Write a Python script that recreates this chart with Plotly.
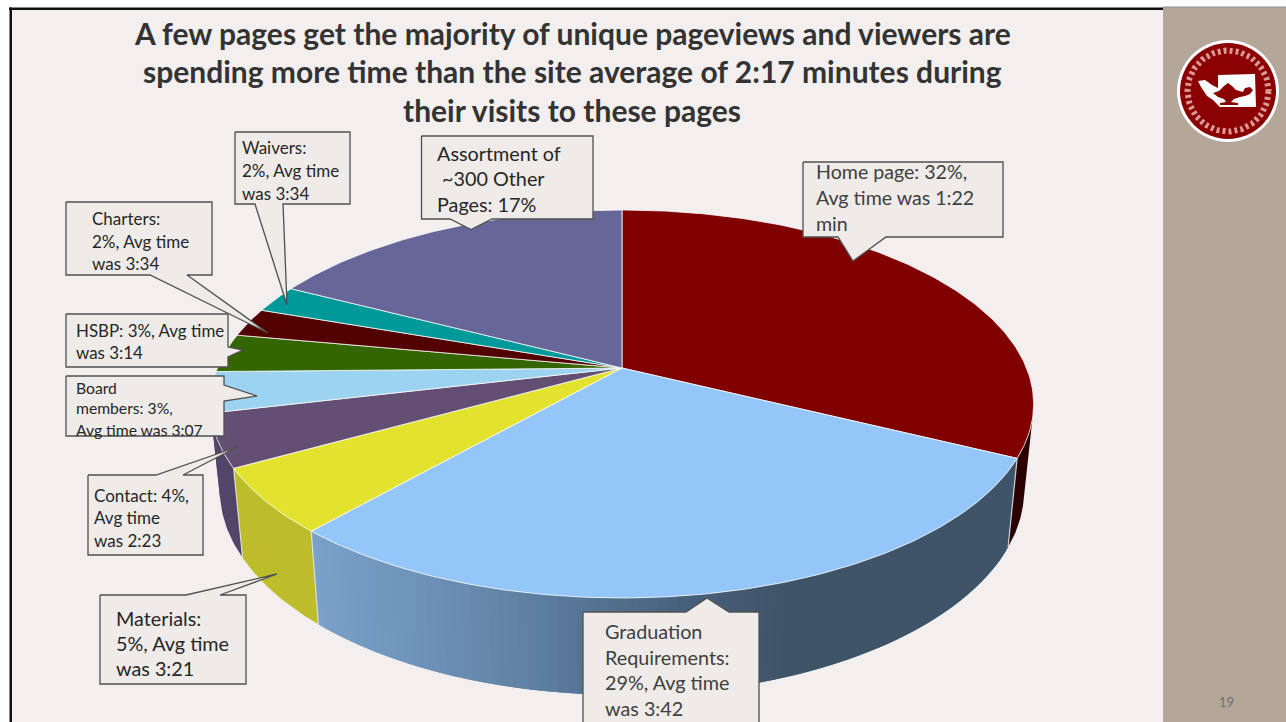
import math
import plotly.graph_objects as go

# Share of unique pageviews per page, clockwise from twelve o'clock
pages = ["Home page", "Graduation Requirements", "Materials", "Contact", "Board members",
         "HSBP", "Charters", "Waivers", "Assortment of ~300 Other Pages"]
shares = [32.3, 29.2, 5.4, 4.4, 3.4, 3.2, 2.4, 2.3, 17.4]
avg_times = ["1:22", "3:42", "3:21", "2:23", "3:07", "3:14", "3:34", "3:34", None]

top_colors = ["#800000", "#94c6fa", "#e3e22f", "#624f73", "#9cd3f1",
              "#336600", "#520000", "#009999", "#666699"]
wall_colors = ["#2b0000", None, "#bdbd2b", "#52456a", "#52456a",
               "#264d00", "#3d0000", "#007373", "#4d4d73"]

TITLE = ["A few pages get the majority of unique pageviews and viewers are",
         "spending more time than the site average of 2:17 minutes during",
         "their visits to these pages"]

W, H = 1286, 722
FONT = "Lato"
INK = "#404040"
INK_DARK = "#262626"
SLIDE = "#f2efee"
BAND = "#b5a69a"
BOX = "#eeebe8"
EDGE = "#505050"

# Projected disc: apex, radii and perspective strength
CX, CY, RX, RY, K = 622.0, 368.0, 404.5, 187.3, 0.1856


def rim(deg):
    t = math.radians(deg)
    u, v = math.sin(t), -math.cos(t)
    w = 1 - K * v
    return CX + RX * u / w, CY + RY * v / w


def lower(x, y):
    # Same rim, dropped to the underside of the extruded pie
    return CX + (x - CX) * 0.977, 548 + 1.057 * (y - 459)


def arc(a0, a1):
    n = max(2, int(abs(a1 - a0) * 1.5))
    return [rim(a0 + (a1 - a0) * i / n) for i in range(n + 1)]


def lerp_color(x, stops):
    for (x0, c0), (x1, c1) in zip(stops, stops[1:]):
        if x <= x1:
            f = max(0.0, (x - x0) / (x1 - x0))
            a = [int(c0[i:i + 2], 16) for i in (1, 3, 5)]
            b = [int(c1[i:i + 2], 16) for i in (1, 3, 5)]
            return "#%02x%02x%02x" % tuple(round(p + (q - p) * f) for p, q in zip(a, b))
    return stops[-1][1]


WALL_RAMP = [(300, "#7da4cd"), (450, "#6c90b5"), (560, "#5c7d9f"),
             (700, "#47607a"), (800, "#3e5469"), (1020, "#3e5469")]

fig = go.Figure()


def poly(points, fill, line=None, lw=0.0):
    fig.add_trace(go.Scatter(
        x=[p[0] for p in points] + [points[0][0]],
        y=[p[1] for p in points] + [points[0][1]],
        mode="lines", fill="toself", fillcolor=fill,
        line=dict(color=line or fill, width=lw if line else 0),
        hoverinfo="skip", showlegend=False))


bounds = [0.0]
for s in shares:
    bounds.append(bounds[-1] + s * 3.6)

# Side walls of the slices facing the viewer, farthest first so nearer ones overlap
for i in (0, 5, 4, 3, 2, 1):
    a0, a1 = bounds[i], bounds[i + 1]
    a0v, a1v = max(a0, 105.0), min(a1, 275.0)
    if a1v <= a0v:
        continue
    if wall_colors[i] is None:
        n = 90
        step = (a1v - a0v) / n
        # Each strip runs on under the next one so no seams show through
        for j in reversed(range(n)):
            p0 = rim(a0v + step * j)
            p1 = rim(min(a1v, a0v + step * (j + 2)))
            quad = [p0, p1, lower(*p1), lower(*p0)]
            poly(quad, lerp_color(p0[0], WALL_RAMP))
    else:
        top = arc(a0v, a1v)
        poly(top + [lower(*p) for p in reversed(top)], wall_colors[i])

# Upper face of each slice
for i in range(len(shares)):
    poly([(CX, CY)] + arc(bounds[i], bounds[i + 1]), top_colors[i],
         line="rgba(255,255,255,0.75)", lw=1.0)

# Light seams where neighbouring walls meet
for a in (bounds[1], bounds[2], bounds[3]):
    p = rim(a)
    q = lower(*p)
    fig.add_trace(go.Scatter(x=[p[0], q[0]], y=[p[1], q[1]], mode="lines",
                             line=dict(color="rgba(235,235,240,0.8)", width=1.2),
                             hoverinfo="skip", showlegend=False))

# Callout outlines: box corners walking round with the pointer spliced in
callouts = [
    [(803, 162), (1003, 162), (1003, 237), (886, 237), (853, 261), (838, 237), (803, 237)],
    [(583, 612), (686, 612), (707, 598), (729, 612), (759, 612), (759, 730), (583, 730)],
    [(100, 595), (186, 595), (277, 574), (220, 595), (246, 595), (246, 684), (100, 684)],
    [(88, 475), (156, 475), (237, 447), (183, 475), (203, 475), (203, 555), (88, 555)],
    [(66, 376), (224, 376), (224, 385), (257, 396), (224, 401), (224, 436), (66, 436)],
    [(66, 314), (228, 314), (228, 347), (243, 350), (228, 357), (228, 367), (66, 367)],
    [(66, 202), (212, 202), (212, 275), (187, 275), (268, 333), (150, 275), (66, 275)],
    [(235, 132), (350, 132), (350, 204), (283, 204), (287, 305), (255, 204), (235, 204)],
    [(421.5, 136), (593, 136), (593, 219), (492, 219), (471, 229.5), (450, 219), (421.5, 219)],
]
for shape in callouts:
    poly(shape, BOX, line=EDGE, lw=1.3)

# Seal in the side band
seal = (1228, 91)
state = [(1218, 75), (1255, 74), (1256, 107), (1220, 107), (1213, 100), (1207, 96),
         (1201, 87), (1198, 81), (1205, 80), (1212, 85), (1218, 88)]
lamp_body = [(1213, 93), (1219, 91), (1224, 86), (1228, 83), (1232, 86), (1236, 90), (1243, 92),
             (1245, 88), (1250, 87), (1253, 90), (1250, 94), (1245, 96), (1240, 97), (1234, 99),
             (1231, 102), (1238, 103), (1238, 105), (1220, 105), (1220, 103), (1226, 102),
             (1224, 99), (1218, 97)]
ring_pts = [(seal[0] + 40.5 * math.cos(math.radians(d)), seal[1] + 40.5 * math.sin(math.radians(d)))
            for d in range(0, 361, 3)]

shapes = [
    dict(type="rect", x0=10, x1=1163, y0=9, y1=H, fillcolor=SLIDE, line_width=0, layer="below"),
    dict(type="rect", x0=1163, x1=W, y0=7, y1=H, fillcolor=BAND, line_width=0, layer="below"),
    dict(type="rect", x0=1163, x1=W, y0=6.5, y1=7.5, fillcolor="#8f8f8f", line_width=0, layer="below"),
    dict(type="rect", x0=9, x1=1163, y0=7.5, y1=10, fillcolor="#111111", line_width=0, layer="below"),
    dict(type="rect", x0=9.5, x1=12, y0=7.5, y1=H, fillcolor="#111111", line_width=0, layer="below"),
    dict(type="circle", x0=seal[0] - 51, x1=seal[0] + 51, y0=seal[1] - 51, y1=seal[1] + 51,
         fillcolor="#ffffff", line_width=0, layer="below"),
    dict(type="circle", x0=seal[0] - 48, x1=seal[0] + 48, y0=seal[1] - 48, y1=seal[1] + 48,
         fillcolor="#8b0000", line_width=0, layer="below"),
]
fig.add_trace(go.Scatter(x=[p[0] for p in ring_pts], y=[p[1] for p in ring_pts], mode="lines",
                         line=dict(color="rgba(255,215,215,0.7)", width=6, dash="3px,3px"),
                         hoverinfo="skip", showlegend=False))
poly(state, "#ffffff")
poly(lamp_body, "#8b0000")

annotations = []


def put(text, x, y, size, bold=False, color=INK, anchor="left"):
    annotations.append(dict(
        x=x - 2 if anchor == "left" else x, y=y, xref="x", yref="y",
        text=f"<b>{text}</b>" if bold else text,
        showarrow=False, xanchor=anchor, yanchor="middle",
        font=dict(family=FONT, size=size, color=color)))


for line, y in zip(TITLE, (33, 71, 110)):
    put(line, 572, y, 30, bold=True, color="#333333", anchor="center")


def pct(i):
    return f"{round(shares[i])}%"


def avg(i):
    return avg_times[i]


label_lines = [
    (INK, 816, 19.6, [(f"Home page: {pct(0)},", 171), (f"Avg time was {avg(0)}", 197), ("min", 223)]),
    (INK, 605, 19.8, [("Graduation", 631), ("Requirements:", 657),
                      (f"{pct(1)}, Avg time", 682), (f"was {avg(1)}", 708)]),
    (INK_DARK, 116, 19.8, [("Materials:", 618), (f"{pct(2)}, Avg time", 643), (f"was {avg(2)}", 668)]),
    (INK_DARK, 94, 17, [(f"Contact: {pct(3)},", 495), ("Avg time", 517), (f"was {avg(3)}", 540)]),
    (INK_DARK, 76, 15.7, [("Board", 388), (f"members: {pct(4)},", 408), (f"Avg time was {avg(4)}", 430)]),
    (INK_DARK, 76, 16.9, [(f"HSBP: {pct(5)}, Avg time", 330), (f"was {avg(5)}", 352)]),
    (INK_DARK, 92, 17, [("Charters:", 218), (f"{pct(6)}, Avg time", 241), (f"was {avg(6)}", 263)]),
    (INK_DARK, 242, 17, [("Waivers:", 147), (f"{pct(7)}, Avg time", 170), (f"was {avg(7)}", 193)]),
    (INK_DARK, 437, 19.8, [("Assortment of", 153), (" ~300 Other", 178), (f"Pages: {pct(8)}", 204)]),
]
for ink, x, size, lines in label_lines:
    for text, y in lines:
        if text.startswith(" "):
            put(text.strip(), x + 5, y, size, color=ink)
        else:
            put(text, x, y, size, color=ink)

put("19", 1226, 702, 13, color="#707070", anchor="center")

fig.update_layout(
    width=W, height=H, margin=dict(l=0, r=0, t=0, b=0),
    paper_bgcolor="#ffffff", plot_bgcolor="rgba(0,0,0,0)",
    xaxis=dict(range=[0, W], visible=False, fixedrange=True),
    yaxis=dict(range=[H, 0], visible=False, fixedrange=True),
    shapes=shapes, annotations=annotations, showlegend=False)

fig.write_html("out.html", config={"displayModeBar": False})
